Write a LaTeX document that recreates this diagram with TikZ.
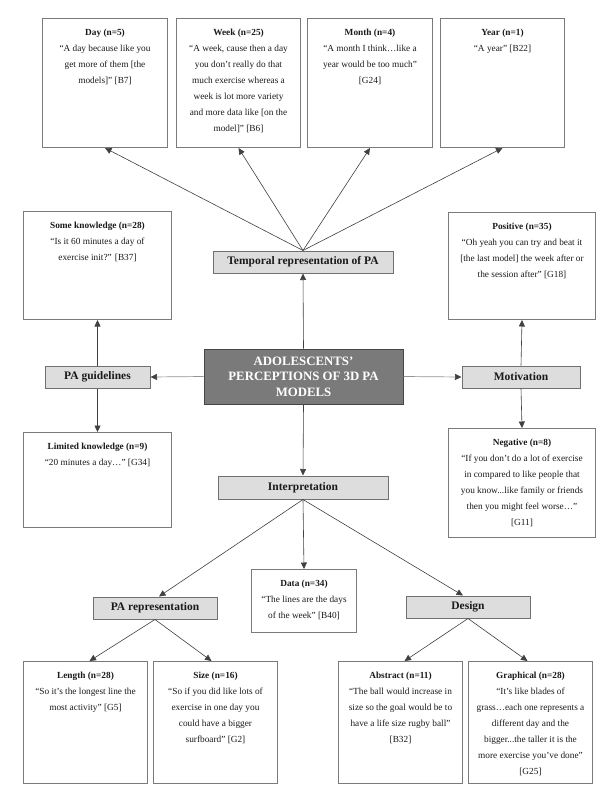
\documentclass[tikz,border=0pt]{standalone}
\usepackage{fontspec}
\setmainfont{Liberation Serif}
\usetikzlibrary{arrows.meta}
\definecolor{boxgray}{HTML}{7A7A7A}
\definecolor{hfill}{HTML}{DDDDDD}
\definecolor{hgray}{HTML}{707070}
\definecolor{cfill}{HTML}{7A7A7A}
\definecolor{cdraw}{HTML}{454545}
\definecolor{arrgray}{HTML}{404040}
\definecolor{arrlight}{HTML}{959595}
\definecolor{txt}{HTML}{1A1A1A}
\newcommand{\qtext}[4]{\parbox[c][#2][t]{#1}{\centering\fontsize{9.3}{16}\selectfont\rule{0pt}{17pt}\textbf{#3}\\ #4\par}}
\begin{document}
\begin{tikzpicture}[x=1pt,y=-1pt,
  qbox/.style={draw=boxgray, line width=1pt, inner sep=0pt, anchor=north west, text=txt},
  hbox/.style={draw=hgray, fill=hfill, line width=1pt, inner sep=0pt, text=txt,
    font=\bfseries\fontsize{11.5}{13}\selectfont},
  cbox/.style={draw=cdraw, fill=cfill, line width=1pt, inner sep=0pt, text=white, align=center,
    font=\bfseries\fontsize{12.8}{15.5}\selectfont},
  arr/.style={draw=arrgray, line width=0.6pt, -{Triangle[length=6.5pt,width=6pt]}},
  arrl/.style={draw=arrlight, line width=0.7pt, -{Triangle[length=6.5pt,width=6pt,color=arrgray]}}
]
\useasboundingbox[fill=white] (0,0) rectangle (615,800);

% top row
\node[qbox] (day) at (42,18) {\qtext{125pt}{129pt}{Day (n=5)}{“A day because like you\\ get more of them [the\\ models]” [B7]}};
\node[qbox] (week) at (176,18) {\qtext{124pt}{129pt}{Week (n=25)}{“A week, cause then a day\\ you don’t really do that\\ much exercise whereas a\\ week is lot more variety\\ and more data like [on the\\ model]” [B6]}};
\node[qbox] (month) at (307,18) {\qtext{125pt}{129pt}{Month (n=4)}{“A month I think…like a\\ year would be too much”\\{}[G24]}};
\node[qbox] (year) at (440,18) {\qtext{124pt}{129pt}{Year (n=1)}{“A year” [B22]}};

% left / right
\node[qbox] (some) at (23,211) {\qtext{148pt}{108pt}{Some knowledge (n=28)}{“Is it 60 minutes a day of\\ exercise init?” [B37]}};
\node[qbox] (limited) at (23,432) {\qtext{148pt}{95pt}{Limited knowledge (n=9)}{“20 minutes a day…” [G34]}};
\node[qbox] (positive) at (448,212) {\qtext{147pt}{107pt}{Positive (n=35)}{“Oh yeah you can try and beat it\\{}[the last model] the week after or\\ the session after” [G18]}};
\node[qbox] (negative) at (448,428) {\qtext{147pt}{109pt}{Negative (n=8)}{“If you don’t do a lot of exercise\\ in compared to like people that\\ you know...like family or friends\\ then you might feel worse…”\\{}[G11]}};
\node[qbox] (data) at (251,569) {\qtext{105pt}{63pt}{Data (n=34)}{“The lines are the days\\ of the week” [B40]}};

% bottom row
\node[qbox] (length) at (23,661) {\qtext{124pt}{122pt}{Length (n=28)}{“So it’s the longest line the\\ most activity” [G5]}};
\node[qbox] (size) at (153,661) {\qtext{124pt}{122pt}{Size (n=16)}{“So if you did like lots of\\ exercise in one day you\\ could have a bigger\\ surfboard” [G2]}};
\node[qbox] (abstract) at (338,661) {\qtext{124pt}{122pt}{Abstract (n=11)}{“The ball would increase in\\ size so the goal would be to\\ have a life size rugby ball”\\{}[B32]}};
\node[qbox] (graphical) at (468,661) {\qtext{124pt}{122pt}{Graphical (n=28)}{“It’s like blades of\\ grass…each one represents a\\ different day and the\\ bigger...the taller it is the\\ more exercise you’ve done”\\{}[G25]}};

% headings
\node[hbox, minimum width=180pt, minimum height=22pt] (temporal) at (303,262) {Temporal representation of PA};
\node[hbox, minimum width=105pt, minimum height=22pt] (guide) at (97.5,377) {PA guidelines};
\node[hbox, minimum width=118pt, minimum height=22pt] (motiv) at (521,377) {Motivation};
\node[hbox, minimum width=170pt, minimum height=23pt] (interp) at (303,487.5) {Interpretation};
\node[hbox, minimum width=124pt, minimum height=22pt] (parep) at (155,608) {PA representation};
\node[hbox, minimum width=124pt, minimum height=22pt] (design) at (468,607) {Design};

% centre
\node[cbox, minimum width=199pt, minimum height=55pt] (centre) at (303.5,376.5) {ADOLESCENTS’\\ PERCEPTIONS OF 3D PA\\ MODELS};

% connectors
\draw[arr] (centre.north) -- (temporal.south);
\draw[arr] (centre.south) -- (interp.north);
\draw[arrl] (centre.west) -- (guide.east);
\draw[arrl] (centre.east) -- (motiv.west);

\draw[arr] (temporal.north) -- (day.south);
\draw[arr] (temporal.north) -- (week.south);
\draw[arr] (temporal.north) -- (month.south);
\draw[arr] (temporal.north) -- (year.south);

\draw[arr] (guide.north) -- (some.south);
\draw[arr] (guide.south) -- (limited.north);
\draw[arr] (motiv.north) -- (positive.south);
\draw[arr] (motiv.south) -- (negative.north);

\draw[arr] (interp.south) -- (data.north);
\draw[arr] (interp.south) -- ([xshift=4pt]parep.north);
\draw[arr] (interp.south) -- ([xshift=-5pt]design.north);

\draw[arr] (parep.south) -- ([xshift=4pt]length.north);
\draw[arr] (parep.south) -- ([xshift=-4pt]size.north);
\draw[arr] (design.south) -- ([xshift=4pt]abstract.north);
\draw[arr] (design.south) -- ([xshift=-3pt]graphical.north);
\end{tikzpicture}
\end{document}
